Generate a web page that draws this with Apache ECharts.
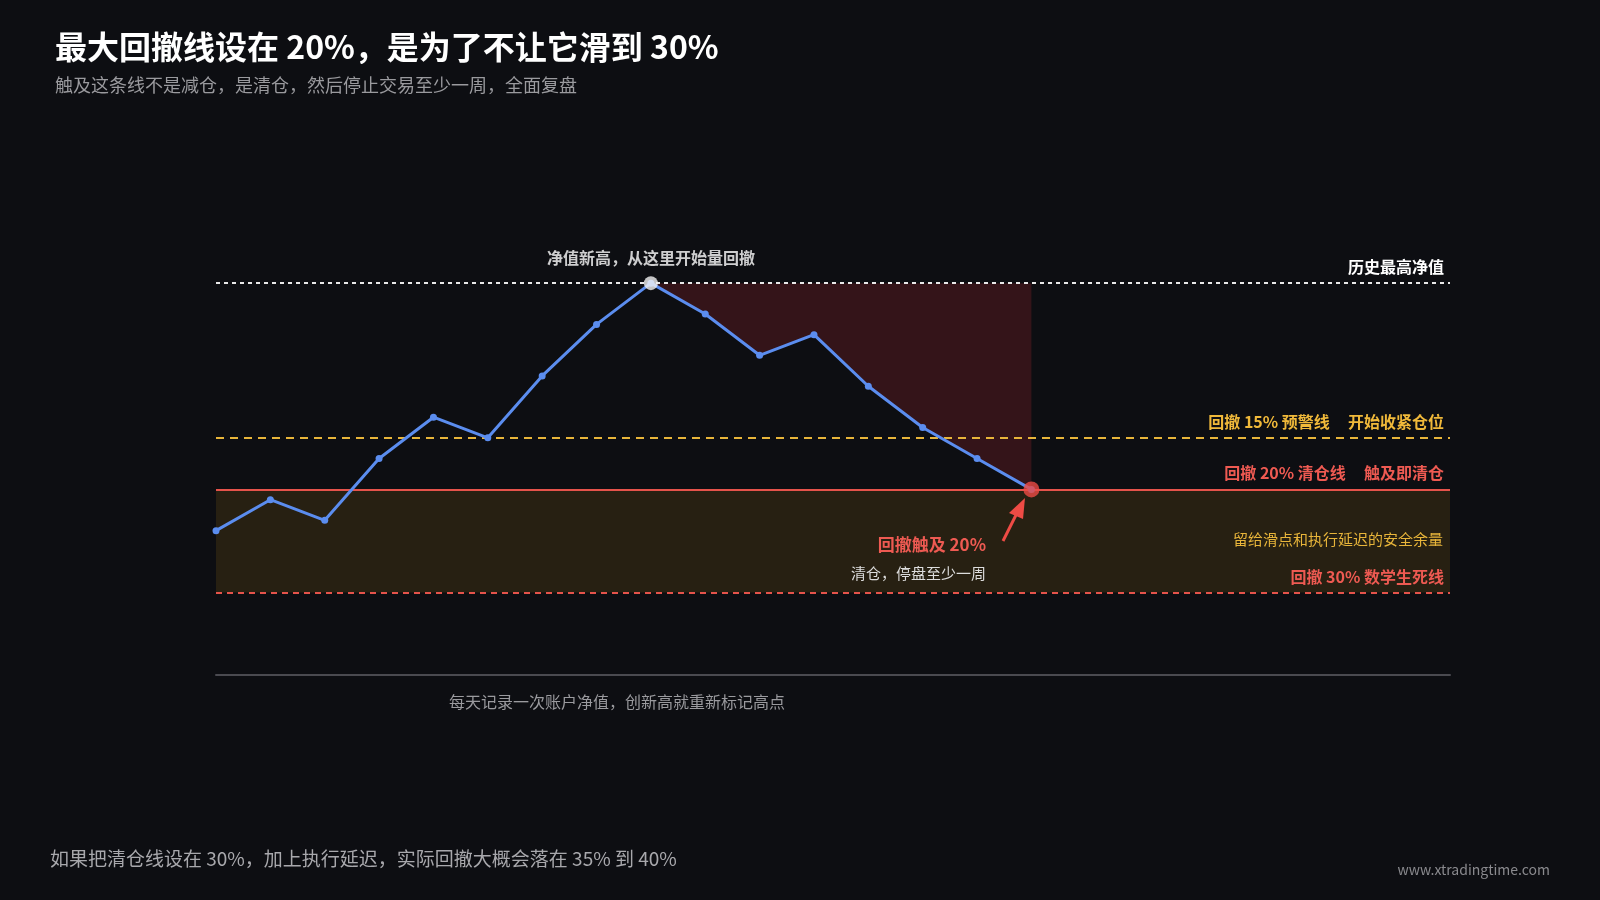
<!DOCTYPE html>
<html>
<head>
<meta charset="utf-8">
<script src="https://cdn.jsdelivr.net/npm/echarts@6/dist/echarts.min.js"></script>
<style>
  html, body { margin: 0; padding: 0; background: #0d0e12; }
  #main { width: 1600px; height: 900px; }
</style>
</head>
<body>
<div id="main"></div>
<script>
// 每日净值（历史高点记为 100）
var days = [0, 1, 2, 3, 4, 5, 6, 7, 8, 9, 10, 11, 12, 13, 14, 15];
var nav = [76, 79, 77, 83, 87, 85, 91, 96, 100, 97, 93, 95, 90, 86, 83, 80];
var peakLevel = 100;
var warnLevel = 85;
var stopLevel = 80;
var deathLevel = 70;
var peakIndex = 8;
var stopIndex = 15;

var font = '"Noto Sans CJK SC", "Noto Sans", sans-serif';
var chart = echarts.init(document.getElementById('main'));

// 回撤区：从高点到清仓点，净值线与历史高点之间
function renderDrawdown(params, api) {
  if (params.dataIndex !== 0) return null;
  var pts = [];
  for (var i = peakIndex; i <= stopIndex; i++) pts.push(api.coord([days[i], nav[i]]));
  pts.push(api.coord([days[stopIndex], peakLevel]));
  return { type: 'polygon', shape: { points: pts }, style: { fill: 'rgba(100,28,36,0.45)' } };
}

var option = {
  backgroundColor: '#0d0e12',
  textStyle: { fontFamily: font },
  animation: false,
  title: [{
    text: '最大回撤线设在 20%，是为了不让它滑到 30%',
    left: 50, top: 26,
    textStyle: { color: '#ffffff', fontSize: 32, fontWeight: 'bold', fontFamily: font }
  }, {
    text: '触及这条线不是减仓，是清仓，然后停止交易至少一周，全面复盘',
    left: 50, top: 71,
    textStyle: { color: '#9a9a9e', fontSize: 18, fontWeight: 'normal', fontFamily: font }
  }],
  grid: { left: 216, right: 150, top: 180, bottom: 225 },
  xAxis: {
    type: 'value', min: 0, max: 22.7,
    axisLine: { show: true, onZero: false, lineStyle: { color: '#4a4a50', width: 2 } },
    axisTick: { show: false }, axisLabel: { show: false }, splitLine: { show: false }
  },
  yAxis: {
    type: 'value', min: 62, max: 110,
    axisLine: { show: false }, axisTick: { show: false },
    axisLabel: { show: false }, splitLine: { show: false }
  },
  series: [{
    type: 'custom', silent: true, z: 1,
    data: [[days[peakIndex], peakLevel]],
    renderItem: renderDrawdown
  }, {
    type: 'line',
    data: days.map(function (d, i) { return [d, nav[i]]; }),
    lineStyle: { color: '#5b8def', width: 3 },
    itemStyle: { color: '#5b8def' },
    symbol: 'circle', symbolSize: 7,
    z: 5,
    markArea: {
      silent: true,
      data: [
        [{ xAxis: 0, yAxis: deathLevel, itemStyle: { color: 'rgba(70,55,20,0.45)' } },
         { xAxis: 22.7, yAxis: stopLevel }]
      ]
    },
    markLine: {
      silent: true, symbol: 'none',
      data: [
        { yAxis: peakLevel, lineStyle: { color: '#e8e8e8', type: [4, 4], width: 2 },
          label: { formatter: '历史最高净值', color: '#ffffff', fontWeight: 'bold', fontSize: 16, position: 'insideEndTop', distance: [6, 8] } },
        { yAxis: warnLevel, lineStyle: { color: '#e8b53a', type: [8, 6], width: 2 },
          label: { formatter: '回撤 15% 预警线     开始收紧仓位', color: '#f0b93a', fontWeight: 'bold', fontSize: 16, position: 'insideEndTop', distance: [6, 8] } },
        { yAxis: stopLevel, lineStyle: { color: '#e5534b', type: 'solid', width: 2 },
          label: { formatter: '回撤 20% 清仓线     触及即清仓', color: '#ee5a52', fontWeight: 'bold', fontSize: 16, position: 'insideEndTop', distance: [6, 8] } },
        { yAxis: deathLevel, lineStyle: { color: '#e5534b', type: [6, 5], width: 2 },
          label: { formatter: '回撤 30% 数学生死线', color: '#ee5a52', fontWeight: 'bold', fontSize: 16, position: 'insideEndTop', distance: [6, 8] } }
      ]
    }
  }, {
    type: 'scatter',
    data: [[peakIndex, nav[peakIndex]]],
    symbolSize: 14,
    itemStyle: { color: '#f2f2f2' },
    z: 10,
    label: { show: true, position: 'top', distance: 10, formatter: '净值新高，从这里开始量回撤', color: '#ffffff', fontWeight: 'bold', fontSize: 16 }
  }, {
    type: 'scatter',
    data: [[stopIndex, nav[stopIndex]]],
    symbolSize: 16,
    itemStyle: { color: '#ee4b45' },
    z: 10
  }],
  graphic: { elements: [
    { type: 'text', right: 157, top: 532, z: 100,
      style: { text: '留给滑点和执行延迟的安全余量', fill: '#e8b53a', font: '15px ' + font } },
    { type: 'text', right: 614, top: 536, z: 100,
      style: { text: '回撤触及 20%', fill: '#ee5a52', font: 'bold 17px ' + font } },
    { type: 'text', right: 614, top: 566, z: 100,
      style: { text: '清仓，停盘至少一周', fill: '#dddddd', font: '15px ' + font } },
    { type: 'line', z: 100, shape: { x1: 1003, y1: 541, x2: 1016, y2: 515 },
      style: { stroke: '#ee4b45', lineWidth: 3 } },
    { type: 'polygon', z: 100, shape: { points: [[1025, 498], [1009, 513], [1023, 519]] },
      style: { fill: '#ee4b45' } },
    { type: 'text', left: 449, top: 694, z: 100,
      style: { text: '每天记录一次账户净值，创新高就重新标记高点', fill: '#9a9a9e', font: '16px ' + font } },
    { type: 'text', left: 50, top: 849, z: 100,
      style: { text: '如果把清仓线设在 30%，加上执行延迟，实际回撤大概会落在 35% 到 40%', fill: '#a8a8ac', font: '19px ' + font } },
    { type: 'text', right: 50, top: 863, z: 100,
      style: { text: 'www.xtradingtime.com', fill: '#8a8a8e', font: '14px ' + font } }
  ] }
};
chart.setOption(option);
</script>
</body>
</html>
